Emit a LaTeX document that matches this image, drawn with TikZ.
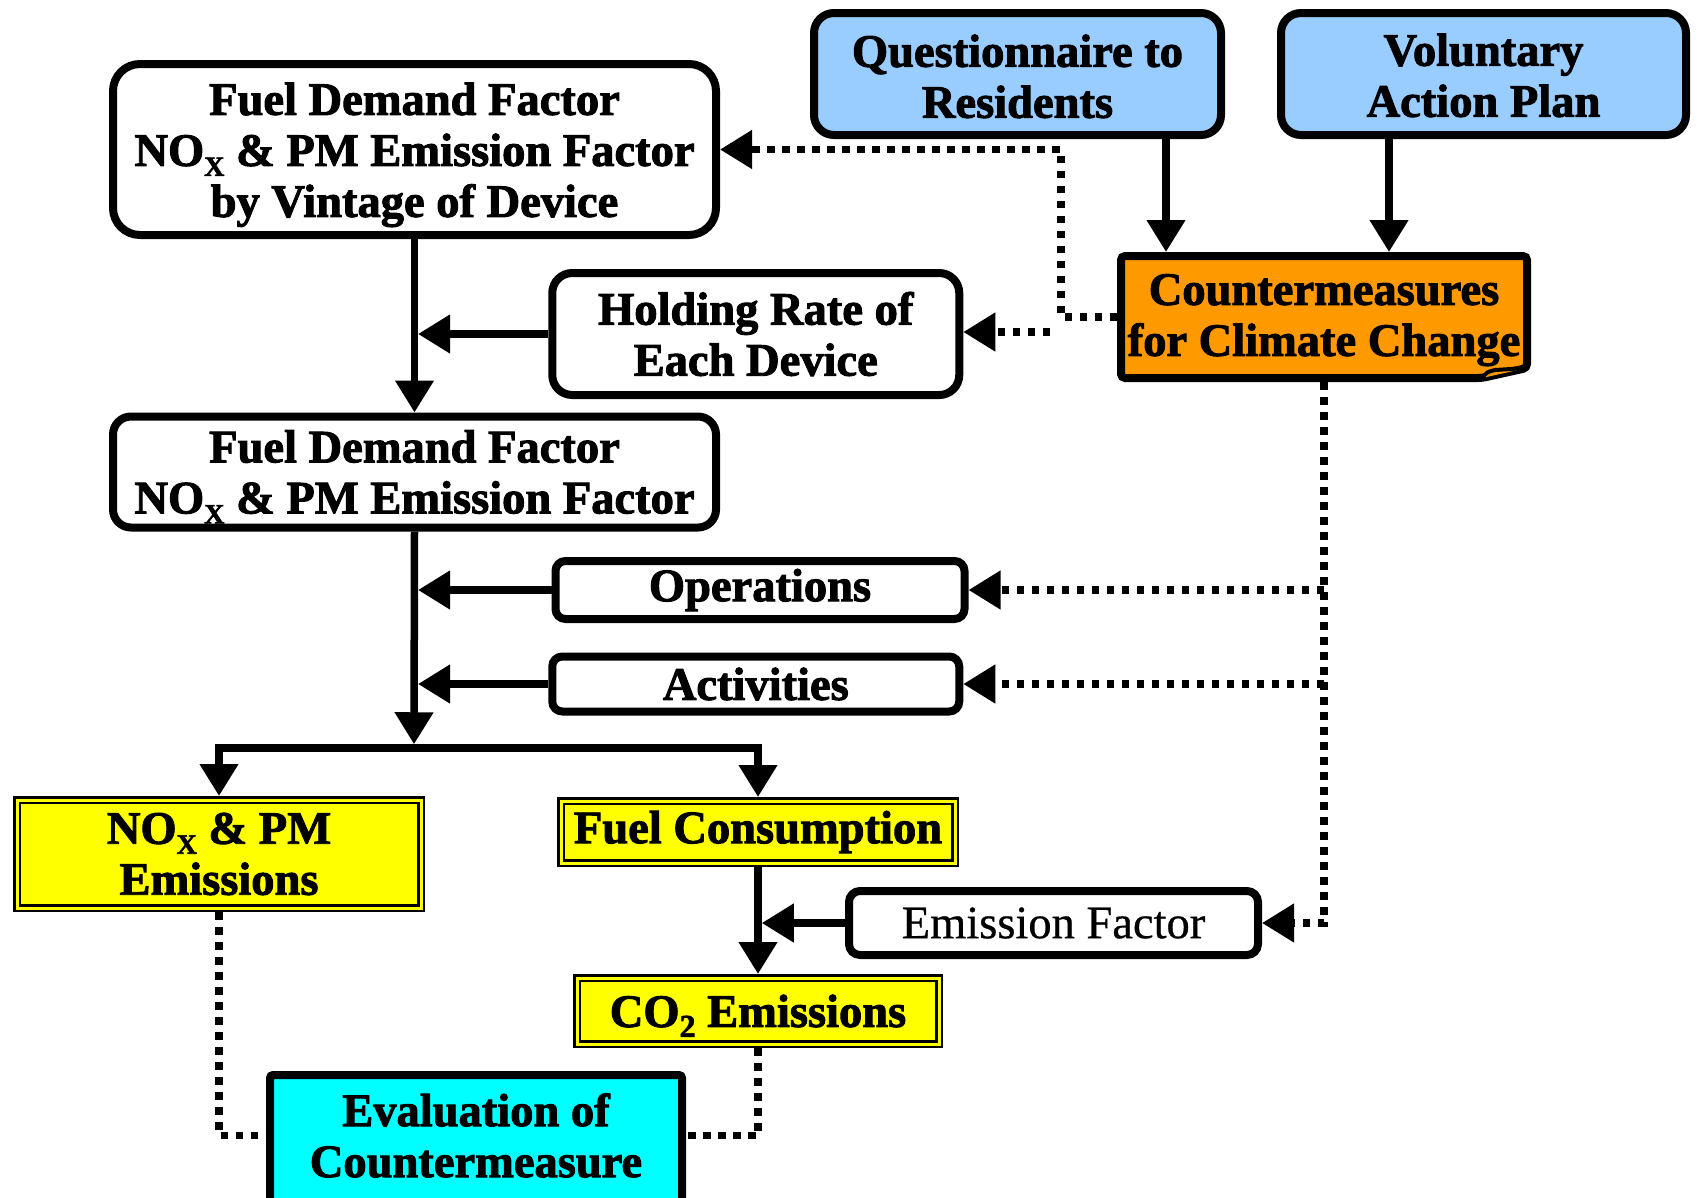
\documentclass[tikz,border=0pt]{standalone}
\usepackage{fontspec}
\setmainfont{Liberation Serif}[UprightFeatures={FakeBold=0.6}, BoldFeatures={FakeBold=2}]
\usetikzlibrary{arrows.meta}
\definecolor{skyblue}{RGB}{153,204,255}
\definecolor{amber}{RGB}{255,153,0}
\definecolor{lemon}{RGB}{255,255,0}
\definecolor{aqua}{RGB}{0,255,255}
% lowered, smaller index text (NO_X, CO_2); kept out of the line's height and depth
\newcommand\sbx[2]{\raisebox{-10pt}[0pt][0pt]{\fontsize{#1}{#1}\selectfont #2}}
% invisible strut that makes a first line taller, pushing a text block down
\newcommand\topstrut[1]{\rule{0pt}{#1}}
\pgfdeclarelayer{bg}
\pgfsetlayers{bg,main}
\tikzset{
  bigtip/.tip={Triangle[length=32pt,width=37pt]},
  mainfont/.style={font=\bfseries\fontsize{46.5}{51}\selectfont},
  box/.style={draw, line width=8pt, outer sep=4pt, fill=white, align=center, inner sep=0pt, mainfont},
  rbox/.style={box, rounded corners=#1},
  hl/.style={draw, line width=2.5pt, double=lemon, double distance=3pt, fill=lemon,
             outer sep=4pt, align=center, inner sep=0pt, mainfont},
  plain/.style={align=center, inner sep=0pt, outer sep=4pt, mainfont},
  flow/.style={line width=7.5pt, -bigtip},
  dots/.style={line width=7.5pt, dash pattern=on 7.5pt off 7.5pt, -bigtip},
  link/.style={line width=7.5pt, dash pattern=on 7.5pt off 7.5pt},
}
\begin{document}
\begin{tikzpicture}[x=1pt, y=-1pt]
\useasboundingbox (0,0) rectangle (1703,1197);

% ---- boxes ----
\node[rbox=27pt, minimum width=603pt, minimum height=171pt] (vint) at (414.5,149.5)
  {\topstrut{43pt}Fuel Demand Factor\\NO\sbx{28}{X} \& PM Emission Factor\\by Vintage of Device};
\node[rbox=20pt, fill=skyblue, minimum width=407pt, minimum height=122pt] (quest) at (1017.5,74)
  {\topstrut{37pt}Questionnaire to\\Residents};
\node[rbox=20pt, fill=skyblue, minimum width=405pt, minimum height=122pt] (vol) at (1483.5,74)
  {\topstrut{35pt}Voluntary\\Action Plan};
\node[plain, minimum width=406pt, minimum height=122pt] (cm) at (1324,317)
  {\topstrut{37pt}Countermeasures\\for Climate Change};
\node[rbox=20pt, minimum width=407pt, minimum height=122pt] (hold) at (755.75,334)
  {Holding Rate of\\Each Device};
\node[rbox=18pt, minimum width=603pt, minimum height=111pt] (fdf) at (414.5,472)
  {Fuel Demand Factor\\NO\sbx{28}{X} \& PM Emission Factor};
\node[rbox=10pt, minimum width=409pt, minimum height=58pt] (ops) at (760,590) {Operations};
\node[rbox=10pt, minimum width=407pt, minimum height=55pt] (act) at (755.75,684) {Activities};
\node[hl, minimum width=404pt, minimum height=108pt] (nox) at (219,854)
  {NO\sbx{28}{X} \& PM\\Emissions};
\node[hl, minimum width=394pt, minimum height=62pt] (fuel) at (758,832) {Fuel Consumption};
\node[rbox=11pt, font=\fontsize{46.5}{51}\selectfont, minimum width=409pt, minimum height=64pt] (ef)
  at (1053.5,923) {Emission Factor};
\node[hl, minimum width=362pt, minimum height=66pt] (co2) at (758,1011) {CO\sbx{32}{2} Emissions};
\node[plain, minimum width=412pt, minimum height=121pt] (eval) at (476,1135.5)
  {Evaluation of\\Countermeasure};

% ---- shaped backgrounds: note with turned-up corner, open-ended result box ----
\begin{pgfonlayer}{bg}
  \draw[line width=8pt, fill=amber, rounded corners=4pt]
    ([xshift=4pt,yshift=-4pt]cm.north west) -- ([xshift=-4pt,yshift=-4pt]cm.north east)
    -- ([xshift=-4pt,yshift=14pt]cm.south east) -- ([xshift=-49pt,yshift=4pt]cm.south east)
    -- ([xshift=4pt,yshift=4pt]cm.south west) -- cycle;
  \draw[line width=4pt, fill=amber, line join=round]
    ([xshift=-49pt,yshift=4pt]cm.south east)
    .. controls ([xshift=-44pt,yshift=10pt]cm.south east) .. ([xshift=-36pt,yshift=12pt]cm.south east)
    -- ([xshift=-4pt,yshift=14pt]cm.south east);
  \draw[line width=8pt, fill=aqua, rounded corners=3pt]
    ([xshift=4pt,yshift=-4pt]eval.north west) rectangle ([xshift=-4pt,yshift=-80pt]eval.south east);
\end{pgfonlayer}

% ---- helper coordinates ----
\coordinate (trunk) at (418,0);
\coordinate (split) at (414,748);
\coordinate (qa) at (1166,0);
\coordinate (va) at (1389,0);
\coordinate (qd) at (1061,0);
\coordinate (hs) at (1050,332);

% ---- solid flow ----
\draw[flow] (vint.south) -- (fdf.north);
\draw[flow] (fdf.south) -- ([yshift=3.75pt]split);
\draw[line width=7.5pt, bigtip-bigtip] (nox.north) -- (nox.north |- split) -- (fuel.north |- split) -- (fuel.north);
\draw[flow] (hold.west) -- (hold.west -| trunk);
\draw[flow] (ops.west) -- (ops.west -| trunk);
\draw[flow] (act.west) -- (act.west -| trunk);
\draw[flow] (quest.south -| qa) -- (cm.north -| qa);
\draw[flow] (vol.south -| va) -- (cm.north -| va);
\draw[flow] (fuel.south) -- (co2.north);
\draw[flow] (ef.west) -- ([xshift=3.75pt]ef.west -| fuel.south);

% ---- dotted influence ----
\draw[dots] (cm.west) -| (qd |- vint.east) -- (vint.east);
\draw[dots] (hs) -- (hs -| hold.east);
\draw[dots] (cm.south) |- (ef.east);
\draw[dots] (cm.south |- ops.east) -- (ops.east);
\draw[dots] (cm.south |- act.east) -- (act.east);
\draw[link] (nox.south) |- (eval.west);
\draw[link] (co2.south) |- (eval.east);
\end{tikzpicture}
\end{document}
